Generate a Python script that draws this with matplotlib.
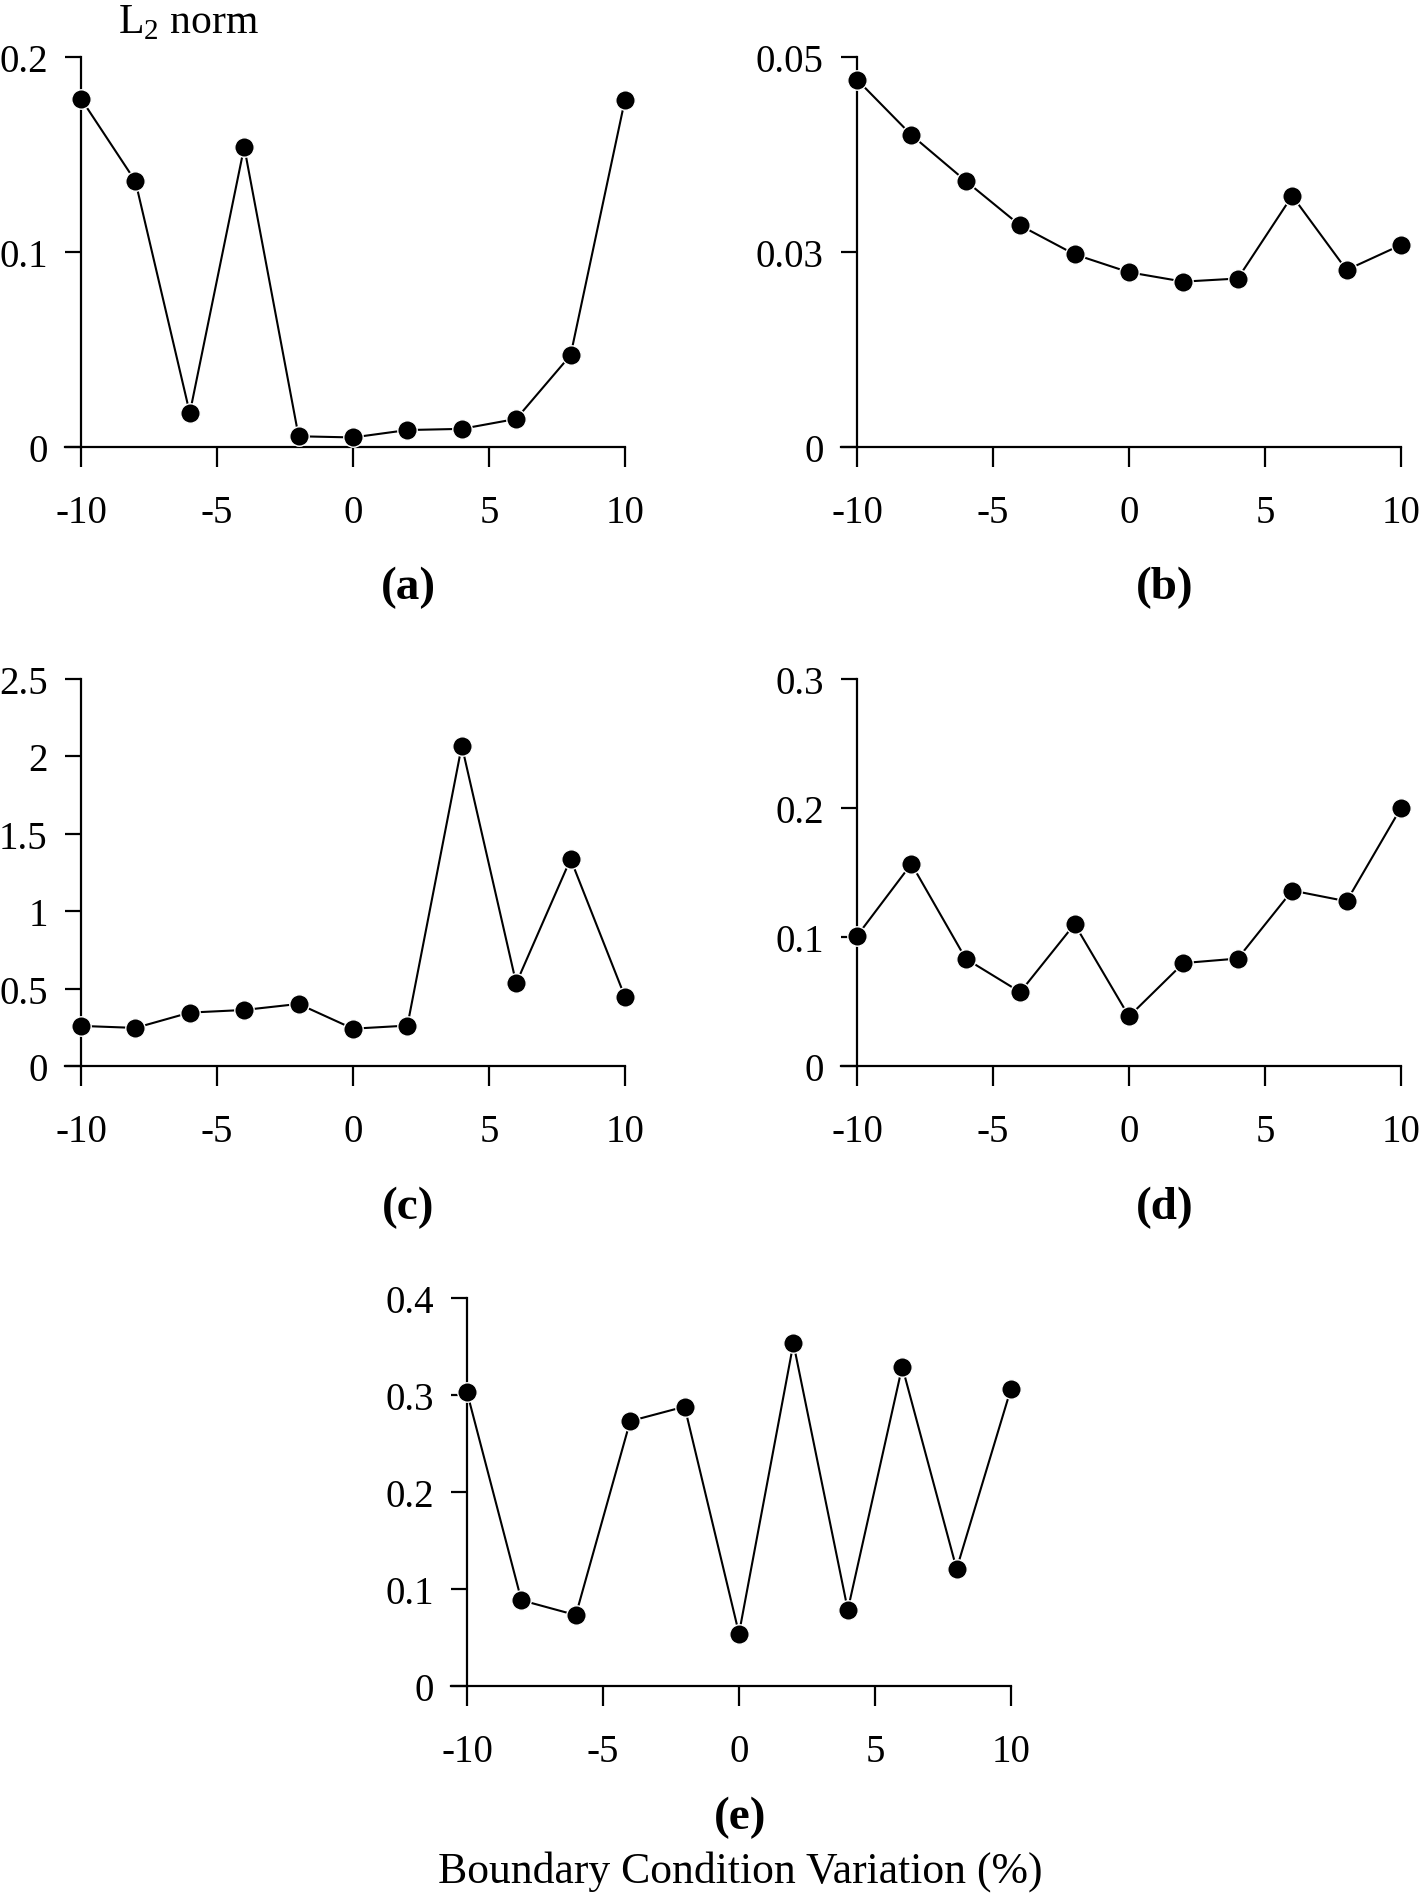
import matplotlib
matplotlib.use("Agg")
import matplotlib.pyplot as plt

plt.rcParams['font.family'] = ['Liberation Serif', 'DejaVu Serif']
plt.rcParams['mathtext.fontset'] = 'custom'
plt.rcParams['mathtext.rm'] = 'Liberation Serif'
plt.rcParams['axes.unicode_minus'] = False

# ---- data ----
x = [-10, -8, -6, -4, -2, 0, 2, 4, 6, 8, 10]
ya = [0.1786, 0.1363, 0.0174, 0.1539, 0.0055, 0.0049, 0.0087, 0.0093, 0.0144, 0.0471, 0.1782]
yb = [0.0471, 0.0400, 0.0341, 0.0284, 0.0247, 0.0224, 0.0212, 0.0216, 0.0322, 0.0227, 0.0259]
yc = [0.259, 0.246, 0.345, 0.362, 0.401, 0.241, 0.261, 2.069, 0.534, 1.337, 0.446]
yd = [0.1008, 0.1567, 0.0831, 0.0573, 0.1100, 0.0384, 0.0798, 0.0833, 0.1360, 0.1277, 0.2001]
ye = [0.3029, 0.0884, 0.0731, 0.2731, 0.2880, 0.0541, 0.3533, 0.0785, 0.3293, 0.1207, 0.3066]

xticks = [-10, -5, 0, 5, 10]
xticklabels = ['-10', '-5', '0', '5', '10']
yticks_a = [0, 0.1, 0.2];            ylabels_a = ['0', '0.1', '0.2']
yticks_b = [0, 0.025, 0.05];         ylabels_b = ['0', '0.03', '0.05']
yticks_c = [0, 0.5, 1, 1.5, 2, 2.5]; ylabels_c = ['0', '0.5', '1', '1.5', '2', '2.5']
yticks_d = [0, 0.1, 0.2, 0.3];       ylabels_d = ['0', '0.1', '0.2', '0.3']
yticks_e = [0, 0.1, 0.2, 0.3, 0.4];  ylabels_e = ['0', '0.1', '0.2', '0.3', '0.4']
panel_labels = ['(a)', '(b)', '(c)', '(d)', '(e)']
xlabel = 'Boundary Condition Variation (%)'
ylabel = 'L$_{\\mathrm{2}}$ norm'

W, H = 1419, 1899
fig = plt.figure(figsize=(W / 100, H / 100), dpi=100)

YEXT = 16  # px, y tick length / bottom spine extension


def make_panel(spine_x, right_x, y0, top, yvals, yticks, ylabels):
    left_px = spine_x - YEXT
    ax = fig.add_axes([left_px / W, 1 - y0 / H, (right_x - left_px) / W, (y0 - top) / H])
    upp = 20.0 / (right_x - spine_x)
    ax.set_xlim(-10 - YEXT * upp, 10)
    ax.set_ylim(yticks[0], yticks[-1])
    ax.spines['left'].set_position(('data', -10))
    for s in ['top', 'right']:
        ax.spines[s].set_visible(False)
    for s in ['left', 'bottom']:
        ax.spines[s].set_linewidth(1.6)
    ax.plot(x, yvals, color='black', lw=1.5, marker='o', ms=14,
            mfc='black', mec='white', mew=1.0, clip_on=False, zorder=3)
    ax.set_xticks(xticks)
    ax.set_xticklabels(xticklabels)
    ax.set_yticks(yticks)
    ax.set_yticklabels(ylabels)
    ax.tick_params(axis='x', direction='out', length=14.4, width=1.6, pad=19.5, labelsize=28)
    ax.tick_params(axis='y', direction='out', length=YEXT * 0.72, width=1.6, pad=12.5, labelsize=28)
    ax.patch.set_visible(False)
    return ax


make_panel(81, 625, 448, 58, ya, yticks_a, ylabels_a)
make_panel(857, 1401, 448, 58, yb, yticks_b, ylabels_b)
make_panel(81, 625, 1067, 680, yc, yticks_c, ylabels_c)
make_panel(857, 1401, 1067, 680, yd, yticks_d, ylabels_d)
make_panel(467, 1011, 1687, 1299, ye, yticks_e, ylabels_e)

label_pos = [(408, 588), (1165, 588), (408, 1208), (1165, 1208), (740, 1818)]
for lab, (px, py) in zip(panel_labels, label_pos):
    fig.text(px / W, 1 - py / H, lab, ha='center', va='center',
             fontsize=34, fontweight='bold')

fig.text(740 / W, 1 - 1883 / H, xlabel, ha='center', va='baseline', fontsize=31.5)
fig.text(118 / W, 1 - 33 / H, ylabel, ha='left', va='baseline', fontsize=30)

fig.savefig('out.png', dpi=100)
